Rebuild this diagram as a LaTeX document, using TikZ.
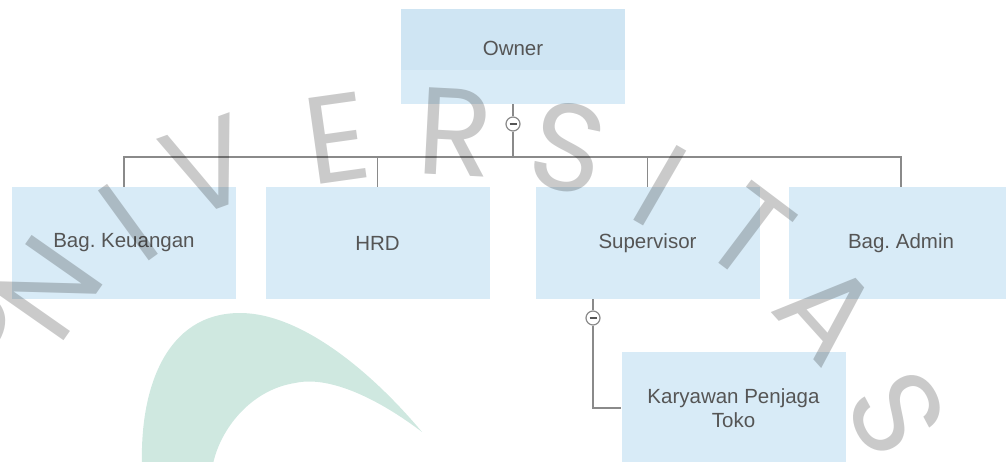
\documentclass[tikz,border=0pt]{standalone}
\usepackage{fontspec}
\setmainfont{Liberation Sans}
\newfontfamily\wmfont{Poppins}
\usetikzlibrary{positioning}
\frenchspacing
\definecolor{boxblue}{RGB}{216,235,247}
\definecolor{ownertop}{RGB}{207,229,243}
\definecolor{linegray}{RGB}{138,138,138}
\definecolor{textgray}{RGB}{85,85,85}
\definecolor{wmgray}{RGB}{202,202,202}
\definecolor{arcgreen}{RGB}{207,232,224}
\tikzset{
orgbox/.style={rectangle, fill=boxblue, minimum width=224pt, minimum height=112pt, inner sep=0pt, text=textgray, align=center, font=\fontsize{20.5}{24}\selectfont}, % every box of the chart
ownerbox/.style={orgbox, minimum height=0pt, text height=47pt, text depth=48pt, path picture={\fill[ownertop] (path picture bounding box.north west) rectangle ([yshift=34pt]path picture bounding box.south east);}}, % top box, two tones
toggle/.style={circle, draw=linegray, fill=white, line width=1.2pt, minimum size=14pt, inner sep=0pt}, % the small collapse button
wire/.style={draw=linegray, line width=1.3pt}, % connectors
wmletter/.style={text=wmgray, inner sep=0pt, font=\wmfont\fontsize{124}{124}\selectfont}, % watermark letters
}

\begin{document}
\begin{tikzpicture}[x=1pt, y=-1pt]
  \useasboundingbox (0,0) rectangle (1006,462);
  \clip (0,0) rectangle (1006,462);

  % green arc in the background
  \fill[arcgreen] (142,464) .. controls (140,390) and (165,313) .. (240,313)
    .. controls (300,313) and (370,370) .. (422,432)
    .. controls (380,400) and (330,375) .. (295,383)
    .. controls (250,390) and (220,430) .. (213,464) -- cycle;

  % boxes
  \node[ownerbox] (owner) at (513,56.5) {Owner};
  \node[orgbox] (keuangan) at (124,243) {Bag. Keuangan};
  \node[orgbox] (hrd) at (377.5,243) {HRD};
  \node[orgbox] (supervisor) at (647.5,243) {Supervisor};
  \node[orgbox] (admin) at (901,243) {Bag. Admin};
  \node[orgbox] (karyawan) at (733.5,408) {Karyawan Penjaga\\Toko};

  % toggles
  \node[toggle] (ownerToggle) at (513,124) {\textcolor{textgray}{\rule{7pt}{1.8pt}}};
  \node[toggle] (superToggle) at (593,318) {\textcolor{textgray}{\rule{7pt}{1.8pt}}};
  \coordinate (bus) at (513,157);

  % connectors
  \draw[wire] (owner.south) -- (ownerToggle.north);
  \draw[wire] (ownerToggle.south) -- (bus);
  \draw[wire] (keuangan.north) |- (admin.north |- bus) -- (admin.north);
  \foreach \n in {hrd, supervisor}
    \draw[wire] (\n.north) -- (\n.north |- bus);
  \draw[wire] (superToggle |- supervisor.south) -- (superToggle.north);
  \draw[wire] (superToggle.south) |- (karyawan.west);

  % watermark
  \begin{scope}[blend mode=multiply]
    \node[wmletter, rotate=65] (wmU) at (-38,318) {U};
    \node[wmletter, rotate=55] (wmN) at (48,288) {N};
    \node[wmletter, rotate=36] (wmIa) at (128,223) {I};
    \node[wmletter, rotate=20] (wmV) at (208,167) {V};
    \node[wmletter, rotate=8] (wmE) at (337,138) {E};
    \node[wmletter, rotate=-3] (wmR) at (455,132) {R};
    \node[wmletter, rotate=-12] (wmSa) at (568,148) {S};
    \node[wmletter, rotate=-30] (wmIb) at (660,186) {I};
    \node[wmletter, rotate=-37] (wmT) at (749,232) {T};
    \node[wmletter, rotate=-48] (wmA) at (828,312) {A};
    \node[wmletter, rotate=-62] (wmSb) at (897,413) {S};
  \end{scope}
\end{tikzpicture}
\end{document}
